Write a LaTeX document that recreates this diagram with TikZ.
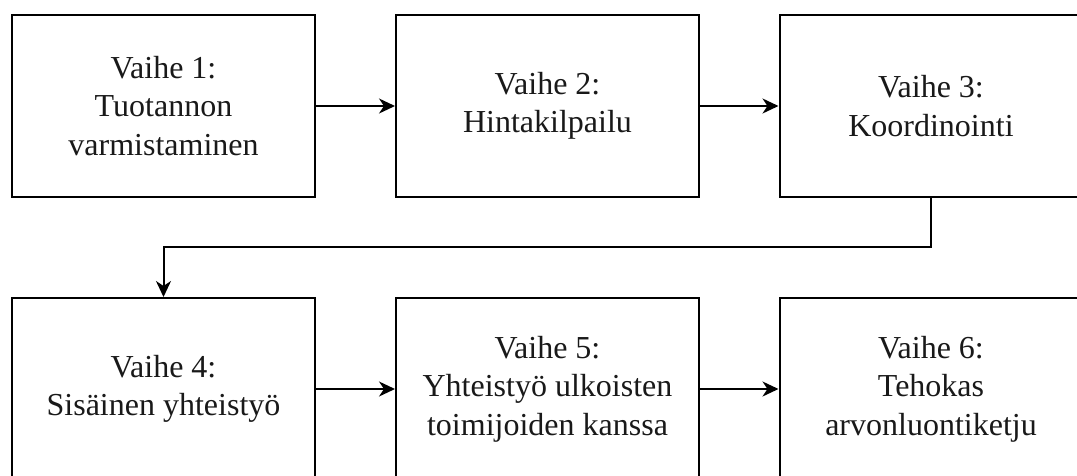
\documentclass[tikz,border=0pt]{standalone}
\usepackage{fontspec}
\setmainfont{Liberation Serif}
\usetikzlibrary{arrows.meta}
\begin{document}
\begin{tikzpicture}[x=1pt,y=-1pt,
  stage/.style={draw=black, line width=2pt, fill=white, rectangle,
    minimum width=303pt, minimum height=182pt, inner sep=0pt,
    align=center, font=\fontsize{32}{38.5}\selectfont, text=black!90},
  flow/.style={line width=2pt, -{Stealth[length=16pt,width=15pt,inset=5pt]}}]
  \useasboundingbox (0,0) rectangle (1077,475);
  % top row
  \node[stage] (s1) at (163.5,106) {Vaihe 1:\\Tuotannon\\varmistaminen};
  \node[stage] (s2) at (547.5,106) {Vaihe 2:\\Hintakilpailu};
  \node[stage] (s3) at (931,106) {Vaihe 3:\\Koordinointi};
  % bottom row
  \node[stage] (s4) at (163.5,389) {Vaihe 4:\\Sisäinen yhteistyö};
  \node[stage] (s5) at (547.5,389) {Vaihe 5:\\Yhteistyö ulkoisten\\toimijoiden kanssa};
  \node[stage] (s6) at (931,389) {Vaihe 6:\\Tehokas\\arvonluontiketju};
  % connectors
  \draw[flow] (s1) -- (s2);
  \draw[flow] (s2) -- (s3);
  \coordinate (bendA) at (931,247);
  \coordinate (bendB) at (163.5,247);
  \draw[flow] (s3.south) -- (bendA) -- (bendB) -- (s4.north);
  \draw[flow] (s4) -- (s5);
  \draw[flow] (s5) -- (s6);
\end{tikzpicture}
\end{document}
